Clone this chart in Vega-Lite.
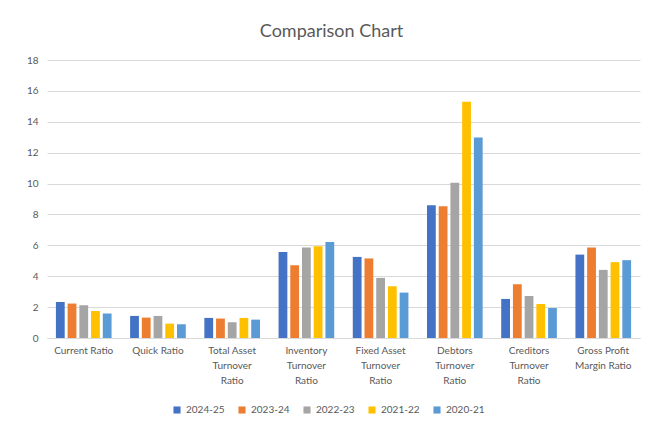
{
  "$schema": "https://vega.github.io/schema/vega-lite/v6.json",
  "autosize": "none",
  "width": 593,
  "height": 278,
  "padding": {"left": 47, "top": 60, "right": 16, "bottom": 91},
  "background": "white",
  "config": {
    "font": "Lato",
    "view": {"stroke": null},
    "axis": {"labelColor": "#595959", "labelFont": "Lato", "labelFontSize": 10}
  },
  "title": {
    "text": "Comparison Chart",
    "fontSize": 18,
    "fontWeight": "normal",
    "color": "#595959",
    "anchor": "middle",
    "offset": 14,
    "dx": -12
  },
  "data": {
    "values": [
      {"ratio": "Current Ratio", "year": "2024-25", "value": 2.33},
      {"ratio": "Current Ratio", "year": "2023-24", "value": 2.23},
      {"ratio": "Current Ratio", "year": "2022-23", "value": 2.12},
      {"ratio": "Current Ratio", "year": "2021-22", "value": 1.75},
      {"ratio": "Current Ratio", "year": "2020-21", "value": 1.58},
      {"ratio": "Quick Ratio", "year": "2024-25", "value": 1.43},
      {"ratio": "Quick Ratio", "year": "2023-24", "value": 1.32},
      {"ratio": "Quick Ratio", "year": "2022-23", "value": 1.43},
      {"ratio": "Quick Ratio", "year": "2021-22", "value": 0.93},
      {"ratio": "Quick Ratio", "year": "2020-21", "value": 0.89},
      {"ratio": "Total Asset Turnover Ratio", "year": "2024-25", "value": 1.3},
      {"ratio": "Total Asset Turnover Ratio", "year": "2023-24", "value": 1.26},
      {"ratio": "Total Asset Turnover Ratio", "year": "2022-23", "value": 1.02},
      {"ratio": "Total Asset Turnover Ratio", "year": "2021-22", "value": 1.3},
      {"ratio": "Total Asset Turnover Ratio", "year": "2020-21", "value": 1.19},
      {"ratio": "Inventory Turnover Ratio", "year": "2024-25", "value": 5.57},
      {"ratio": "Inventory Turnover Ratio", "year": "2023-24", "value": 4.71},
      {"ratio": "Inventory Turnover Ratio", "year": "2022-23", "value": 5.86},
      {"ratio": "Inventory Turnover Ratio", "year": "2021-22", "value": 5.94},
      {"ratio": "Inventory Turnover Ratio", "year": "2020-21", "value": 6.22},
      {"ratio": "Fixed Asset Turnover Ratio", "year": "2024-25", "value": 5.25},
      {"ratio": "Fixed Asset Turnover Ratio", "year": "2023-24", "value": 5.15},
      {"ratio": "Fixed Asset Turnover Ratio", "year": "2022-23", "value": 3.89},
      {"ratio": "Fixed Asset Turnover Ratio", "year": "2021-22", "value": 3.35},
      {"ratio": "Fixed Asset Turnover Ratio", "year": "2020-21", "value": 2.94},
      {"ratio": "Debtors Turnover Ratio", "year": "2024-25", "value": 8.6},
      {"ratio": "Debtors Turnover Ratio", "year": "2023-24", "value": 8.53},
      {"ratio": "Debtors Turnover Ratio", "year": "2022-23", "value": 10.05},
      {"ratio": "Debtors Turnover Ratio", "year": "2021-22", "value": 15.3},
      {"ratio": "Debtors Turnover Ratio", "year": "2020-21", "value": 12.99},
      {"ratio": "Creditors Turnover Ratio", "year": "2024-25", "value": 2.53},
      {"ratio": "Creditors Turnover Ratio", "year": "2023-24", "value": 3.48},
      {"ratio": "Creditors Turnover Ratio", "year": "2022-23", "value": 2.72},
      {"ratio": "Creditors Turnover Ratio", "year": "2021-22", "value": 2.2},
      {"ratio": "Creditors Turnover Ratio", "year": "2020-21", "value": 1.94},
      {"ratio": "Gross Profit Margin Ratio", "year": "2024-25", "value": 5.4},
      {"ratio": "Gross Profit Margin Ratio", "year": "2023-24", "value": 5.86},
      {"ratio": "Gross Profit Margin Ratio", "year": "2022-23", "value": 4.41},
      {"ratio": "Gross Profit Margin Ratio", "year": "2021-22", "value": 4.91},
      {"ratio": "Gross Profit Margin Ratio", "year": "2020-21", "value": 5.04}
    ]
  },
  "mark": {"type": "bar"},
  "encoding": {
    "x": {
      "field": "ratio",
      "type": "nominal",
      "sort": null,
      "scale": {"paddingInner": 0.25, "paddingOuter": 0.12},
      "axis": {
        "title": null,
        "labelAngle": 0,
        "ticks": false,
        "domainColor": "#D9D9D9",
        "labelPadding": 7,
        "labelLineHeight": 15,
        "labelExpr": "indexof(datum.label, ' Turnover') > 0 ? [substring(datum.label, 0, indexof(datum.label, ' Turnover')), 'Turnover', 'Ratio'] : datum.label == 'Gross Profit Margin Ratio' ? ['Gross Profit', 'Margin Ratio'] : datum.label"
      }
    },
    "xOffset": {
      "field": "year",
      "type": "nominal",
      "sort": null,
      "scale": {"paddingInner": 0.25}
    },
    "y": {
      "field": "value",
      "type": "quantitative",
      "scale": {"domain": [0, 18], "nice": false},
      "axis": {
        "title": null,
        "values": [0, 2, 4, 6, 8, 10, 12, 14, 16, 18],
        "labelOverlap": false,
        "domain": false,
        "ticks": false,
        "gridColor": "#D9D9D9",
        "labelPadding": 9
      }
    },
    "color": {
      "field": "year",
      "type": "nominal",
      "sort": null,
      "scale": {
        "domain": ["2024-25", "2023-24", "2022-23", "2021-22", "2020-21"],
        "range": ["#4472C4", "#ED7D31", "#A5A5A5", "#FFC000", "#5B9BD5"]
      },
      "legend": {
        "title": null,
        "orient": "none",
        "legendX": 125,
        "legendY": 345,
        "direction": "horizontal",
        "symbolType": "square",
        "symbolSize": 50,
        "labelColor": "#595959",
        "labelFontSize": 10,
        "columnPadding": 12
      }
    }
  }
}
